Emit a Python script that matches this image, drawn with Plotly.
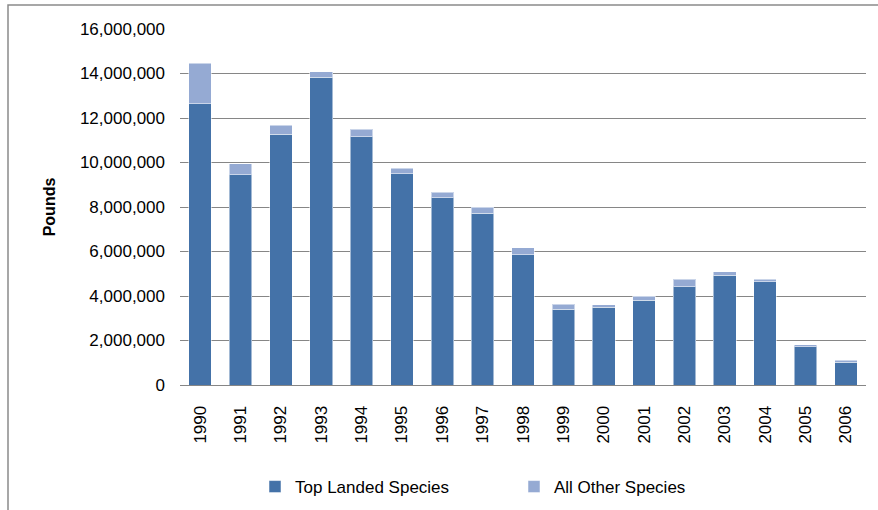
import plotly.graph_objects as go

years = ["1990", "1991", "1992", "1993", "1994", "1995", "1996", "1997", "1998",
         "1999", "2000", "2001", "2002", "2003", "2004", "2005", "2006"]
top_landed = [12650000, 9450000, 11280000, 13840000, 11160000, 9500000, 8420000, 7720000, 5860000,
              3400000, 3490000, 3820000, 4420000, 4940000, 4640000, 1720000, 1030000]
totals = [14460000, 9950000, 11670000, 14080000, 11500000, 9750000, 8670000, 7980000, 6160000,
          3630000, 3600000, 3980000, 4760000, 5080000, 4760000, 1810000, 1120000]
all_other = [t - a for t, a in zip(totals, top_landed)]

FONT = "Liberation Sans"
fig = go.Figure()
fig.add_trace(go.Bar(x=years, y=top_landed, name="Top Landed Species",
                     marker=dict(color="#4472A8", line=dict(color="rgba(255,255,255,0.5)", width=1))))
fig.add_trace(go.Bar(x=years, y=all_other, name="All Other Species",
                     marker=dict(color="#95AAD3", line=dict(color="rgba(255,255,255,0.5)", width=1))))

fig.update_layout(
    barmode="stack", bargap=0.44,
    width=878, height=510,
    margin=dict(l=180, r=12, t=29, b=125, autoexpand=False),
    paper_bgcolor="white", plot_bgcolor="white",
    font=dict(family=FONT, size=17, color="#000"),
    showlegend=True,
    legend=dict(orientation="h", x=(255 - 180) / 686, xanchor="left", y=-(487 - 385) / 356,
                yanchor="middle", font=dict(size=17), entrywidth=214, traceorder="normal"),
    xaxis=dict(tickangle=-90, showgrid=False, showline=True, linecolor="#868686", linewidth=1,
               ticks="", ticklabelstandoff=13, automargin=False),
    yaxis=dict(range=[0, 16000000], dtick=2000000, tickformat=",d", showgrid=True,
               gridcolor="#868686", gridwidth=1, zeroline=False, showline=False,
               ticklabelstandoff=14, automargin=False,
               title=dict(text="<b>Pounds</b>", font=dict(size=16), standoff=20)),
    shapes=[dict(type="rect", xref="paper", yref="paper",
                 x0=(8 - 180) / 686, x1=1.2, y0=-0.6, y1=(385 - 5) / 356,
                 line=dict(color="#8a8a8a", width=1.5), fillcolor="rgba(0,0,0,0)", layer="below")],
)

fig.write_html("out.html")
